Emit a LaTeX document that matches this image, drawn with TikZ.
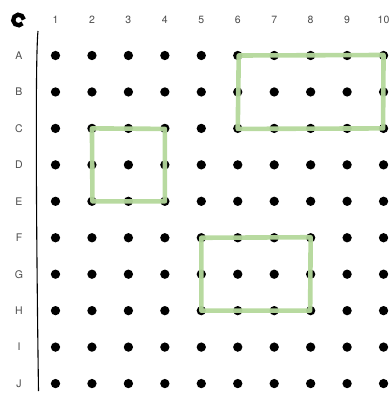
\documentclass[tikz,border=0pt]{standalone}
\usepackage{fontspec}
\setmainfont{TeX Gyre Heros}
\begin{document}
\begin{tikzpicture}[x=1pt,y=-1pt,
  dotn/.style={circle,fill=black,inner sep=0pt,minimum size=9.3pt},
  lbl/.style={font=\fontsize{10.5}{12}\selectfont,text=black!70},
  hand/.style={draw=greenhand,line width=4.6pt,line join=round,line cap=round,opacity=0.95}]
\definecolor{greenhand}{RGB}{180,216,155}
\useasboundingbox (0,0) rectangle (391,393);
% logo
\draw[line width=4.3pt] (18.5,20) ++(-5:5.3) arc[start angle=-5,end angle=-320,radius=5.3];
% column labels
\foreach \c in {1,...,10}{
  \node[lbl] (col\c) at ({55.5+36.45*(\c-1)},20) {\c};
}
% row labels and dots
\foreach \r [count=\i] in {A,B,C,D,E,F,G,H,I,J}{
  \node[lbl] (row\r) at (19,{55.5+36.45*(\i-1)}) {\r};
  \foreach \c in {1,...,10}{
    \node[dotn] (\r\c) at ({55.5+36.45*(\c-1)},{55.5+36.45*(\i-1)}) {};
  }
}
% vertical rule
\coordinate (vt) at (38,31);
\coordinate (vb) at (38.5,391);
\draw[line width=1.1pt] (vt) .. controls (35,60) and (36.5,250) .. (vb);
% green rectangles
\draw[hand] ([xshift=1pt]A6.center) -- ([yshift=0.5pt]A10.center) -- ([xshift=-0.5pt]C10.center) -- ([yshift=-0.5pt]C6.center) -- cycle;
\draw[hand] (C2.center) -- ([yshift=-0.5pt]C4.center) -- (E4.center) -- ([xshift=0.5pt]E2.center) -- cycle;
\draw[hand] (F5.center) -- ([yshift=0.5pt]F8.center) -- ([xshift=-0.5pt]H8.center) -- (H5.center) -- cycle;
\end{tikzpicture}
\end{document}
